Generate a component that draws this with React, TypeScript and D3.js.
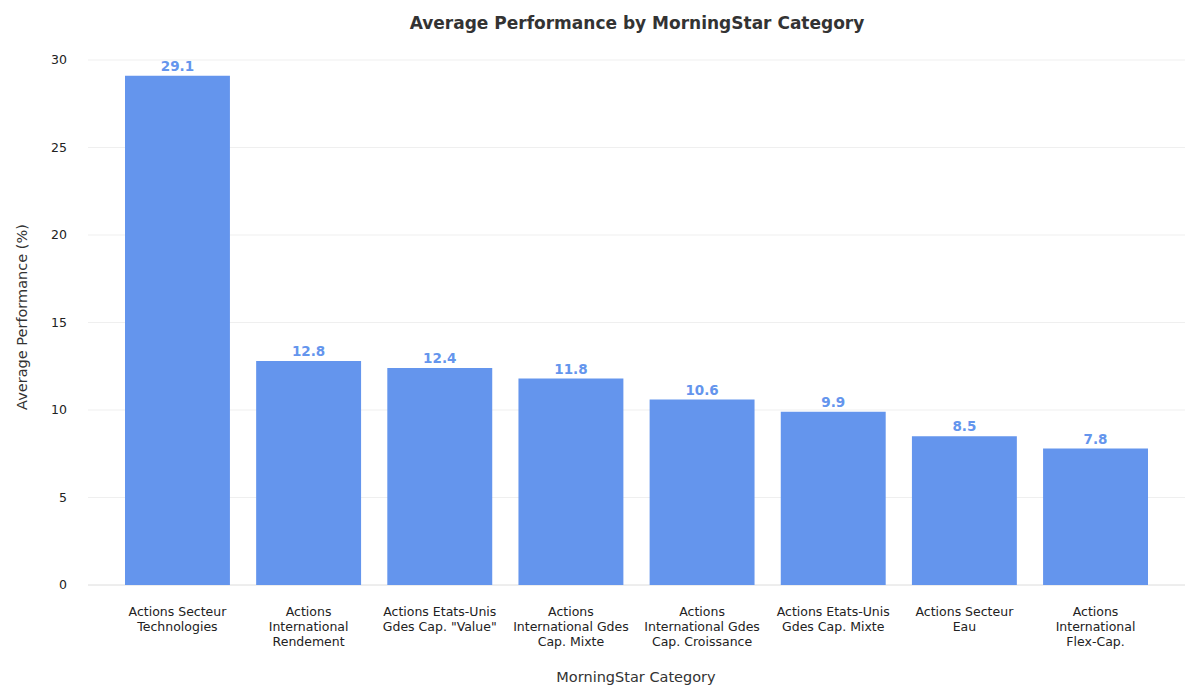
import React from "react";
import * as d3 from "d3";

const categories = [
  ["Actions Secteur", "Technologies"],
  ["Actions", "International", "Rendement"],
  ["Actions Etats-Unis", 'Gdes Cap. "Value"'],
  ["Actions", "International Gdes", "Cap. Mixte"],
  ["Actions", "International Gdes", "Cap. Croissance"],
  ["Actions Etats-Unis", "Gdes Cap. Mixte"],
  ["Actions Secteur", "Eau"],
  ["Actions", "International", "Flex-Cap."],
];
const values = [29.1, 12.8, 12.4, 11.8, 10.6, 9.9, 8.5, 7.8];
const yTicks = [0, 5, 10, 15, 20, 25, 30];

export default function App() {
  const font = "DejaVu Sans, sans-serif";
  const x = d3.scaleBand<number>().domain(d3.range(values.length)).range([125, 1148]).paddingInner(0.2);
  const y = d3.scaleLinear().domain([0, 30]).range([585, 60]);
  return (
    <svg width={1200} height={700} style={{ position: "absolute", left: 0, top: 0 }} fontFamily={font}>
      <text x={637} y={29} textAnchor="middle" fontSize={17} fontWeight="bold" fill="#333">
        Average Performance by MorningStar Category
      </text>
      {yTicks.map((t) => (
        <g key={t}>
          {t > 0 && <line x1={88} x2={1185} y1={y(t)} y2={y(t)} stroke="#ebebeb" strokeWidth={0.8} />}
          <text x={67} y={y(t) + 4} textAnchor="end" fontSize={12.5} fill="#222">{t}</text>
        </g>
      ))}
      <line x1={88} x2={1185} y1={585} y2={585} stroke="#dcdcdc" />
      {values.map((v, i) => (
        <g key={i}>
          <rect x={x(i)} y={y(v)} width={x.bandwidth()} height={585 - y(v)} fill="#6495ED" />
          <text x={x(i)! + x.bandwidth() / 2} y={y(v) - 5} textAnchor="middle" fontSize={13.5} fontWeight="bold" fill="#6495ED">
            {v.toFixed(1)}
          </text>
          {categories[i].map((l, j) => (
            <text key={j} x={x(i)! + x.bandwidth() / 2} y={616 + j * 15} textAnchor="middle" fontSize={12.5} fill="#222">{l}</text>
          ))}
        </g>
      ))}
      <text x={636} y={682} textAnchor="middle" fontSize={14.5} fill="#333">MorningStar Category</text>
      <text transform="translate(27,317) rotate(-90)" textAnchor="middle" fontSize={14.5} fill="#333">Average Performance (%)</text>
    </svg>
  );
}
